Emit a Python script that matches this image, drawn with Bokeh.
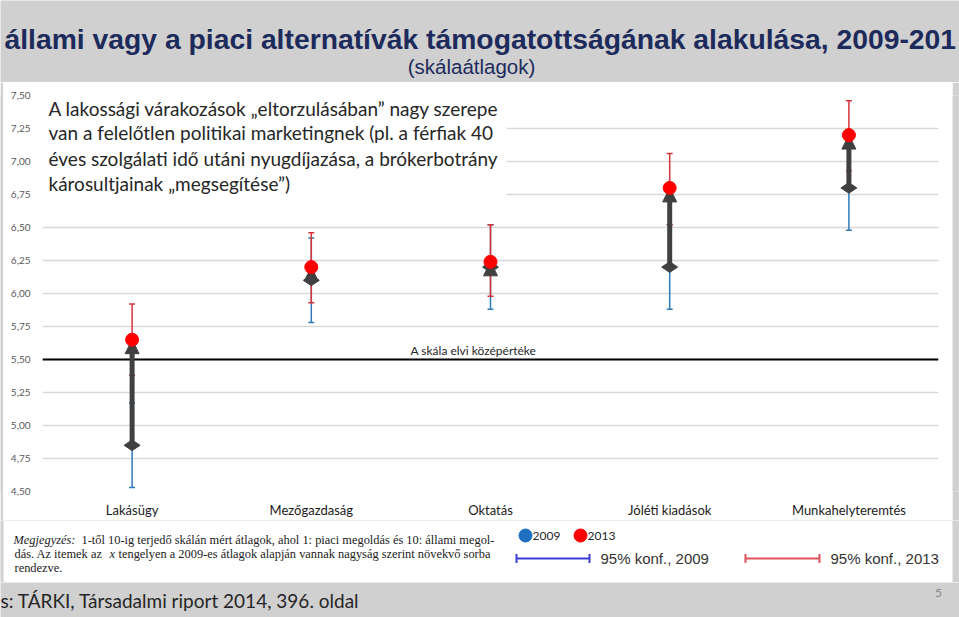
import math
from bokeh.plotting import figure
from bokeh.layouts import column, row
from bokeh.models import (Range1d, FixedTicker, ColumnDataSource, Whisker, TeeHead, Arrow,
                          NormalHead, Span, Label, BoxAnnotation)
from bokeh.embed import file_html
from bokeh.resources import INLINE

# ---------------- data ----------------
categories = ["Lakásügy", "Mezőgazdaság", "Oktatás", "Jóléti kiadások", "Munkahelyteremtés"]
mean_2009 = [4.85, 6.10, 6.20, 6.20, 6.80]
low_2009 = [4.53, 5.78, 5.88, 5.88, 6.48]
high_2009 = [5.17, 6.42, 6.52, 6.52, 7.12]
mean_2013 = [5.65, 6.20, 6.24, 6.80, 7.20]
low_2013 = [5.38, 5.93, 5.98, 6.52, 6.93]
high_2013 = [5.92, 6.46, 6.52, 7.06, 7.46]
y_ticks = [4.5, 4.75, 5.0, 5.25, 5.5, 5.75, 6.0, 6.25, 6.5, 6.75, 7.0, 7.25, 7.5]
y_tick_labels = ["4,50", "4,75", "5,00", "5,25", "5,50", "5,75", "6,00", "6,25",
                 "6,50", "6,75", "7,00", "7,25", "7,50"]
scale_midpoint = 5.5
series_labels = ["2009", "2013"]
ci_labels = ["95% konf., 2009", "95% konf., 2013"]

title_text = "állami vagy a piaci alternatívák támogatottságának alakulása, 2009-201"
subtitle_text = "(skálaátlagok)"
box_lines = ["A lakossági várakozások „eltorzulásában” nagy szerepe",
             "van a felelőtlen politikai marketingnek (pl. a férfiak 40",
             "éves szolgálati idő utáni nyugdíjazása, a brókerbotrány",
             "károsultjainak „megsegítése”)"]
mid_label = "A skála elvi középértéke"
source_text = "s: TÁRKI, Társadalmi riport 2014, 396. oldal"
page_number = "5"

# ---------------- styling ----------------
W, H = 959, 617
GRAY = "#d0d0d0"
NAVY = "#1d2b5c"
DARK = "#404040"
BLUE_CI = "#2f7ab9"
RED_CI = "#d9333a"
RED_DOT = "#ff0000"
BLUE_DOT = "#1f6fc0"
LEG_BLUE = "#3c3cd6"
LEG_RED = "#e0535b"
CALIBRI = "Lato"
SERIF = "Liberation Serif"


def dx(px):
    return (px - 42.0) / 179.2


def dy(py):
    return 7.5 - (py - 95.0) / 132.0


def band(width, height):
    f = figure(width=width, height=height, x_range=Range1d(0, width), y_range=Range1d(height, 0),
               output_backend="svg", toolbar_location=None, title=None,
               x_axis_location=None, y_axis_location=None, min_border=0,
               outline_line_color=None, background_fill_color=GRAY, border_fill_color=GRAY)
    f.grid.visible = False
    return f


# ---------------- title band (0..82) ----------------
f_title = band(W, 82)
f_title.add_layout(Label(x=4, y=38, text=title_text, text_font="Liberation Sans",
                         text_font_style="bold", text_font_size="28.3px", text_color=NAVY,
                         text_baseline="middle"))
f_title.add_layout(Label(x=471, y=66, text=subtitle_text, text_font="Liberation Sans",
                         text_font_size="20.5px", text_color=NAVY, text_baseline="middle",
                         text_align="center"))

# ---------------- main chart (82..520, x 3..952) ----------------
x_pos = [i + 0.5 for i in range(len(categories))]
src = ColumnDataSource(dict(x=x_pos, m09=mean_2009, l09=low_2009, h09=high_2009,
                            m13=mean_2013, l13=low_2013, h13=high_2013))

p = figure(width=949, height=438, x_range=Range1d(0, len(categories)), y_range=Range1d(4.5, 7.5),
           output_backend="svg", toolbar_location=None, title=None,
           min_border_left=39, min_border_right=14, min_border_top=13, min_border_bottom=29,
           background_fill_color="white", border_fill_color="white", outline_line_color=None)

p.xaxis.ticker = FixedTicker(ticks=x_pos)
p.xaxis.major_label_overrides = {x: c for x, c in zip(x_pos, categories)}
p.yaxis.ticker = FixedTicker(ticks=y_ticks)
p.yaxis.major_label_overrides = {(int(t) if float(t).is_integer() else t): l
                                 for t, l in zip(y_ticks, y_tick_labels)}
for ax in (p.xaxis[0], p.yaxis[0]):
    ax.axis_line_color = None
    ax.major_tick_line_color = None
    ax.minor_tick_line_color = None
    ax.major_tick_out = 0
    ax.major_tick_in = 0
    ax.minor_tick_out = 0
    ax.minor_tick_in = 0
    ax.major_label_text_font = CALIBRI
p.xaxis.major_label_standoff = 10
p.xaxis.major_label_text_font_size = "13px"
p.xaxis.major_label_text_color = "#1a1a1a"
p.yaxis.major_label_standoff = 12
p.yaxis.major_label_text_font_size = "10px"
p.yaxis.major_label_text_color = "#595959"

p.xgrid.visible = False
p.ygrid.ticker = FixedTicker(ticks=y_ticks)
p.ygrid.grid_line_color = "#d9d9d9"
p.ygrid.grid_line_width = 1.3

p.add_layout(Span(location=scale_midpoint, dimension="width", line_color="black",
                  line_width=2, level="underlay"))
p.add_layout(Label(x=dx(410), y=scale_midpoint, y_offset=2, text=mid_label, text_font=CALIBRI,
                   text_font_size="12px", text_color="#262626", text_baseline="bottom"))

p.add_layout(Whisker(source=src, base="x", lower="l09", upper="h09", dimension="height",
                     line_color=BLUE_CI, line_width=1.5, level="underlay",
                     lower_head=TeeHead(size=6, line_color=BLUE_CI, line_width=1.5),
                     upper_head=TeeHead(size=6, line_color=BLUE_CI, line_width=1.5)))
p.add_layout(Whisker(source=src, base="x", lower="l13", upper="h13", dimension="height",
                     line_color=RED_CI, line_width=1.5, level="underlay",
                     lower_head=TeeHead(size=6, line_color=RED_CI, line_width=1.5),
                     upper_head=TeeHead(size=6, line_color=RED_CI, line_width=1.5)))

p.add_layout(Arrow(source=src, x_start="x", y_start="m09", x_end="x", y_end="m13",
                   line_color=DARK, line_width=5, level="underlay",
                   end=NormalHead(size=14, fill_color=DARK, line_color=DARK)))

p.scatter("x", "m09", source=src, marker="diamond", size=16, angle=math.pi / 2, color=DARK)
p.scatter("x", "m13", source=src, marker="circle", size=13, color=RED_DOT)

p.add_layout(BoxAnnotation(left=0, right=dx(506), top=dy(86), bottom=dy(206),
                           fill_color="white", fill_alpha=1.0, line_color=None))
for line, yy in zip(box_lines, [108, 132, 158, 183]):
    p.add_layout(Label(x=dx(48), y=dy(yy), text=line, text_font=CALIBRI, text_font_size="19px",
                       text_color="#262626", text_baseline="middle"))

strip_l = band(3, 438)
strip_r = band(7, 438)

# ---------------- note + legend band (520..582) ----------------
f_note = band(W, 62)
f_note.add_layout(BoxAnnotation(left=3, right=952, top=0, bottom=62, fill_color="white",
                                fill_alpha=1.0, line_color=None, level="image"))
f_note.scatter(x=[525, 580], y=[15, 15], marker="circle", size=13, color=[BLUE_DOT, RED_DOT])
for lx, txt in zip([532, 587], series_labels):
    f_note.add_layout(Label(x=lx, y=15, text=txt, text_font=CALIBRI, text_font_size="12px",
                            text_color="#262626", text_baseline="middle"))
for (x0, x1, tx), col, txt in zip([(516, 589, 600), (745, 819, 830)], [LEG_BLUE, LEG_RED], ci_labels):
    f_note.add_layout(Whisker(base=38, lower=x0, upper=x1, dimension="width", line_color=col,
                              line_width=2,
                              lower_head=TeeHead(size=9, line_color=col, line_width=2),
                              upper_head=TeeHead(size=9, line_color=col, line_width=2)))
    f_note.add_layout(Label(x=tx, y=38, text=txt, text_font="Liberation Sans",
                            text_font_size="15px", text_color="#333333", text_baseline="middle"))
NOTE_SIZE = "12.4px"
notes = [
    (13, 19, "Megjegyzés:", "italic"),
    (81, 19, "1-től 10-ig terjedő skálán mért átlagok, ahol 1: piaci megoldás és 10: állami megol-", "normal"),
    (14, 33, "dás. Az itemek az", "normal"),
    (109, 33, "x", "italic"),
    (118, 33, "tengelyen a 2009-es átlagok alapján vannak nagyság szerint növekvő sorba", "normal"),
    (14, 47, "rendezve.", "normal"),
]
for nx, ny, txt, style in notes:
    f_note.add_layout(Label(x=nx, y=ny, text=txt, text_font=SERIF, text_font_size=NOTE_SIZE,
                            text_font_style=style, text_color="#222222", text_baseline="middle"))

# ---------------- footer band (582..617) ----------------
f_foot = band(W, 35)
f_foot.add_layout(Label(x=0, y=18, text=source_text, text_font=CALIBRI, text_font_size="19px",
                        text_color="#262626", text_baseline="middle"))
f_foot.add_layout(Label(x=938, y=10, text=page_number, text_font=CALIBRI, text_font_size="12px",
                        text_color="#8a8a8a", text_baseline="middle", text_align="center"))

layout = column(f_title, row(strip_l, p, strip_r, spacing=0), f_note, f_foot, spacing=0)

open("out.html", "w").write(file_html(layout, INLINE))
